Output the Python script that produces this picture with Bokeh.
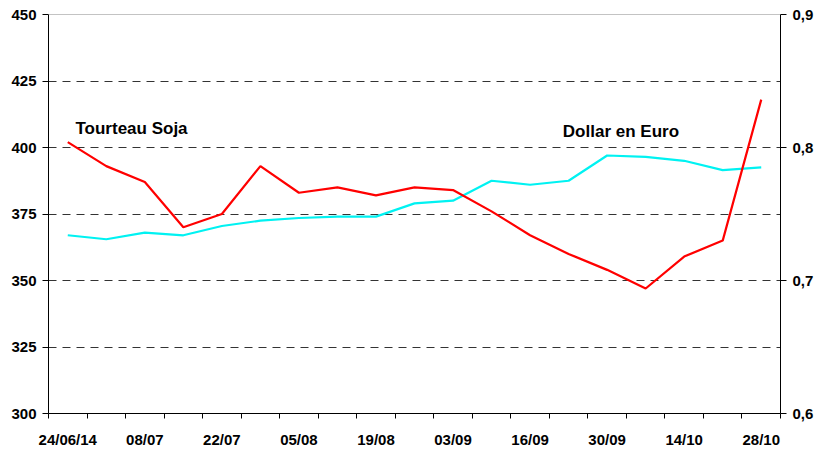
from bokeh.plotting import figure
from bokeh.models import Range1d, LinearAxis, FixedTicker, Span
from bokeh.core.properties import value
from bokeh.embed import file_html
from bokeh.resources import INLINE

dates = ["24/06/14", "01/07", "08/07", "15/07", "22/07", "29/07", "05/08", "12/08", "19/08",
         "26/08", "03/09", "09/09", "16/09", "23/09", "30/09", "07/10", "14/10", "21/10", "28/10"]
tick_labels = ["24/06/14", "08/07", "22/07", "05/08", "19/08", "03/09", "16/09", "30/09", "14/10", "28/10"]
soja = [402, 393, 387, 370, 375, 393, 383, 385, 382, 385, 384, 376, 367, 360, 354, 347, 359, 365, 418]
dollar = [0.734, 0.731, 0.736, 0.734, 0.741, 0.745, 0.747, 0.748, 0.748, 0.758, 0.760, 0.775,
          0.772, 0.775, 0.794, 0.793, 0.790, 0.783, 0.785]
left_ticks = [300, 325, 350, 375, 400, 425, 450]
right_ticks = [0.6, 0.7, 0.8, 0.9]

FONT = "Liberation Sans"
n = len(dates)
xs = [i + 0.5 for i in range(n)]

p = figure(width=816, height=450, output_backend="svg", toolbar_location=None,
           x_range=Range1d(0, n), y_range=Range1d(300, 450),
           min_border_left=48, min_border_right=35, min_border_top=14, min_border_bottom=37)
p.outline_line_color = None
p.background_fill_color = "white"
p.extra_y_ranges = {"usd": Range1d(0.6, 0.9)}

# grid
p.xgrid.grid_line_color = None
p.ygrid.ticker = FixedTicker(ticks=left_ticks)
p.ygrid.grid_line_color = "#333333"
p.ygrid.grid_line_dash = "8 6"
p.ygrid.grid_line_width = 1
p.add_layout(Span(location=450, dimension="width", line_color="#888888", line_width=1))

# x axis
xa = p.xaxis[0]
label_pos = [i + 0.5 for i in range(0, n, 2)]
xa.ticker = FixedTicker(ticks=label_pos, minor_ticks=list(range(n + 1)))
xa.major_label_overrides = {pos: lab for pos, lab in zip(label_pos, tick_labels)}
xa.major_tick_out = 0
xa.major_tick_in = 0
xa.minor_tick_out = 5
xa.minor_tick_in = 0
xa.minor_tick_line_color = "black"
xa.axis_line_color = "black"
xa.major_label_text_font = FONT
xa.major_label_text_font_style = "bold"
xa.major_label_text_font_size = "15px"
xa.major_label_text_color = "black"
xa.major_label_standoff = 12

# left axis
ya = p.yaxis[0]
ya.ticker = FixedTicker(ticks=left_ticks)
ya.major_tick_out = 6
ya.major_tick_in = 0
ya.minor_tick_line_color = None
ya.axis_line_color = "black"
ya.major_label_text_font = FONT
ya.major_label_text_font_style = "bold"
ya.major_label_text_font_size = "15px"
ya.major_label_text_color = "black"
ya.major_label_standoff = 6

# right axis
ra = LinearAxis(y_range_name="usd", ticker=FixedTicker(ticks=right_ticks))
ra.major_label_overrides = {t: f"{t:.1f}".replace(".", ",") for t in right_ticks}
ra.major_tick_out = 6
ra.major_tick_in = 0
ra.minor_tick_line_color = None
ra.axis_line_color = "black"
ra.major_label_text_font = FONT
ra.major_label_text_font_style = "bold"
ra.major_label_text_font_size = "15px"
ra.major_label_text_color = "black"
ra.major_label_standoff = 6
p.add_layout(ra, "right")

# lines
p.line(xs, dollar, y_range_name="usd", line_color="#00F2F2", line_width=2.2)
p.line(xs, soja, line_color="#FF0000", line_width=2.2)

# labels
p.text(x=[0.7], y=[407], text=["Tourteau Soja"], text_font=value(FONT), text_font_style="bold",
       text_font_size="17px", text_color="black", text_baseline="middle", text_align="left")
p.text(x=[13.35], y=[406], text=["Dollar en Euro"], text_font=value(FONT), text_font_style="bold",
       text_font_size="17px", text_color="black", text_baseline="middle", text_align="left")

open("out.html", "w").write(file_html(p, INLINE))
